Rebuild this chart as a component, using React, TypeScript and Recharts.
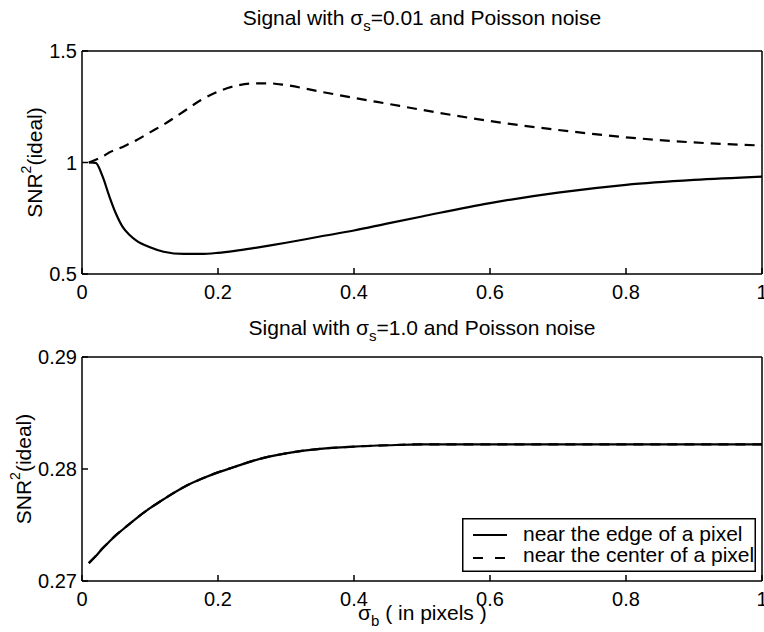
import React from 'react';
import { LineChart, Line, XAxis, YAxis, Legend, Label } from 'recharts';

const sigmaB = [0.01, 0.02, 0.03, 0.04, 0.05, 0.06, 0.07, 0.08, 0.1, 0.12, 0.15, 0.175, 0.2, 0.225, 0.25, 0.275, 0.3, 0.35, 0.4, 0.45, 0.5, 0.6, 0.7, 0.8, 0.9, 1.0];
const edgeTop = [1.0, 0.998, 0.94, 0.85, 0.77, 0.71, 0.675, 0.65, 0.62, 0.6, 0.59, 0.59, 0.595, 0.604, 0.615, 0.627, 0.64, 0.668, 0.695, 0.727, 0.758, 0.818, 0.865, 0.9, 0.922, 0.937];
const centerTop = [1.0, 1.012, 1.025, 1.045, 1.058, 1.07, 1.085, 1.1, 1.135, 1.17, 1.23, 1.28, 1.318, 1.343, 1.354, 1.355, 1.347, 1.318, 1.29, 1.263, 1.236, 1.186, 1.146, 1.113, 1.09, 1.076];
const edgeBottom = [0.2716, 0.2722, 0.2729, 0.2735, 0.2741, 0.2746, 0.2751, 0.2756, 0.2765, 0.2773, 0.2784, 0.2791, 0.2797, 0.2802, 0.2807, 0.2811, 0.2814, 0.2818, 0.282, 0.28212, 0.2822, 0.2822, 0.2822, 0.2822, 0.2822, 0.2822];
const centerBottom = [0.2716, 0.2722, 0.2729, 0.2735, 0.2741, 0.2746, 0.2751, 0.2756, 0.2765, 0.2773, 0.2784, 0.2791, 0.2797, 0.2802, 0.2807, 0.2811, 0.2814, 0.2818, 0.282, 0.28212, 0.2822, 0.2822, 0.2822, 0.2822, 0.2822, 0.2822];

const xTicks = [0, 0.2, 0.4, 0.6, 0.8, 1];
const topYTicks = [0.5, 1, 1.5];
const bottomYTicks = [0.27, 0.28, 0.29];
const seriesNames = ['near the edge of a pixel', 'near the center of a pixel'];
const topTitle = ['Signal with σ', 's', '=0.01 and Poisson noise'];
const bottomTitle = ['Signal with σ', 's', '=1.0 and Poisson noise'];
const yLabelParts = ['SNR', '2', '(ideal)'];
const xLabelParts = ['σ', 'b', ' ( in pixels )'];

const topData = sigmaB.map((x, i) => ({ x, edge: edgeTop[i], center: centerTop[i] }));
const bottomData = sigmaB.map((x, i) => ({ x, edge: edgeBottom[i], center: centerBottom[i] }));

const FONT = '"Liberation Sans", Arial, Helvetica, sans-serif';
const axisLine = { stroke: '#000', strokeWidth: 1.5 };
const tickStyle = { fill: '#000', fontSize: 20, fontFamily: FONT };

const makeTitle = (parts: string[]) => () => (
  <text x={422} y={25} textAnchor="middle" fontSize={21} fontFamily={FONT} fill="#000">
    {parts[0]}
    <tspan dy={6} fontSize={15}>{parts[1]}</tspan>
    <tspan dy={-6}>{parts[2]}</tspan>
  </text>
);

const makeYLabel = (cx: number, cy: number) => () => (
  <text
    x={cx}
    y={cy}
    transform={`rotate(-90 ${cx} ${cy})`}
    textAnchor="middle"
    dominantBaseline="central"
    fontSize={21}
    fontFamily={FONT}
    fill="#000"
  >
    {yLabelParts[0]}
    <tspan dy={-8} fontSize={14}>{yLabelParts[1]}</tspan>
    <tspan dy={8}>{yLabelParts[2]}</tspan>
  </text>
);

const XLabel = () => (
  <text x={358} y={310} fontSize={21} fontFamily={FONT} fill="#000">
    {xLabelParts[0]}
    <tspan dy={6} fontSize={15}>{xLabelParts[1]}</tspan>
    <tspan dy={-6}>{xLabelParts[2]}</tspan>
  </text>
);

const LegendBox = () => (
  <svg width={294} height={54} style={{ display: 'block' }}>
    <rect x={0.75} y={0.75} width={292.5} height={52.5} fill="#fff" stroke="#000" strokeWidth={1.5} />
    <line x1={11} x2={45} y1={17} y2={17} stroke="#000" strokeWidth={2.2} />
    <text x={61} y={23} fontSize={21} fontFamily={FONT} fill="#000">{seriesNames[0]}</text>
    <line x1={11} x2={45} y1={40} y2={40} stroke="#000" strokeWidth={2.2} strokeDasharray="10 12" />
    <text x={61} y={44} fontSize={21} fontFamily={FONT} fill="#000">{seriesNames[1]}</text>
  </svg>
);

const frameAxes = (yDomain: number[], yTicks: number[], title: string[], yLabelPos: number[], withXLabel: boolean, xHeight: number) => [
  <XAxis
    key="xb"
    dataKey="x"
    type="number"
    domain={[0, 1]}
    ticks={xTicks}
    interval={0}
    tickSize={-6}
    tickMargin={17}
    height={xHeight}
    axisLine={axisLine}
    tickLine={axisLine}
    tick={tickStyle}
    tickFormatter={(v: number) => String(v)}
    label={withXLabel ? <Label content={XLabel} /> : undefined}
  />,
  <XAxis
    key="xt"
    xAxisId="top"
    dataKey="x"
    type="number"
    orientation="top"
    domain={[0, 1]}
    ticks={xTicks}
    interval={0}
    tickSize={-6}
    height={1}
    axisLine={axisLine}
    tickLine={axisLine}
    tick={false}
    label={<Label content={makeTitle(title)} />}
  />,
  <YAxis
    key="yl"
    type="number"
    domain={yDomain}
    ticks={yTicks}
    interval={0}
    allowDataOverflow
    width={82}
    tickSize={-6}
    tickMargin={11}
    axisLine={axisLine}
    tickLine={axisLine}
    tick={tickStyle}
    tickFormatter={(v: number) => String(v)}
    label={<Label content={makeYLabel(yLabelPos[0], yLabelPos[1])} />}
  />,
  <YAxis
    key="yr"
    yAxisId="right"
    orientation="right"
    type="number"
    domain={yDomain}
    ticks={yTicks}
    interval={0}
    allowDataOverflow
    width={1}
    tickSize={-6}
    axisLine={axisLine}
    tickLine={axisLine}
    tick={false}
  />,
];

export default function App() {
  return (
    <div style={{ position: 'absolute', left: 0, top: 0, width: 764, height: 632, background: '#fff' }}>
      <div style={{ position: 'absolute', left: 0, top: 0 }}>
        <LineChart width={764} height={310} data={topData} margin={{ top: 50, right: 1, bottom: 6, left: 0 }}>
          {frameAxes([0.5, 1.5], topYTicks, topTitle, [34, 162.5], false, 30)}
          <Line dataKey="center" type="monotone" stroke="#000" strokeWidth={2.2} strokeDasharray="10 7" dot={false} isAnimationActive={false} />
          <Line dataKey="edge" type="monotone" stroke="#000" strokeWidth={2.2} dot={false} isAnimationActive={false} />
        </LineChart>
      </div>
      <div style={{ position: 'absolute', left: 0, top: 310 }}>
        <LineChart width={764} height={322} data={bottomData} margin={{ top: 46, right: 1, bottom: 11, left: 0 }}>
          {frameAxes([0.27, 0.29], bottomYTicks, bottomTitle, [23, 159], true, 40)}
          <Line dataKey="center" name={seriesNames[1]} type="monotone" stroke="#000" strokeWidth={2.2} strokeDasharray="10 7" dot={false} isAnimationActive={false} />
          <Line dataKey="edge" name={seriesNames[0]} type="monotone" stroke="#000" strokeWidth={2.2} dot={false} isAnimationActive={false} />
          <Legend
            layout="vertical"
            verticalAlign="middle"
            align="center"
            content={LegendBox}
            wrapperStyle={{ left: 462, top: 208, width: 294, height: 54 }}
          />
        </LineChart>
      </div>
    </div>
  );
}
